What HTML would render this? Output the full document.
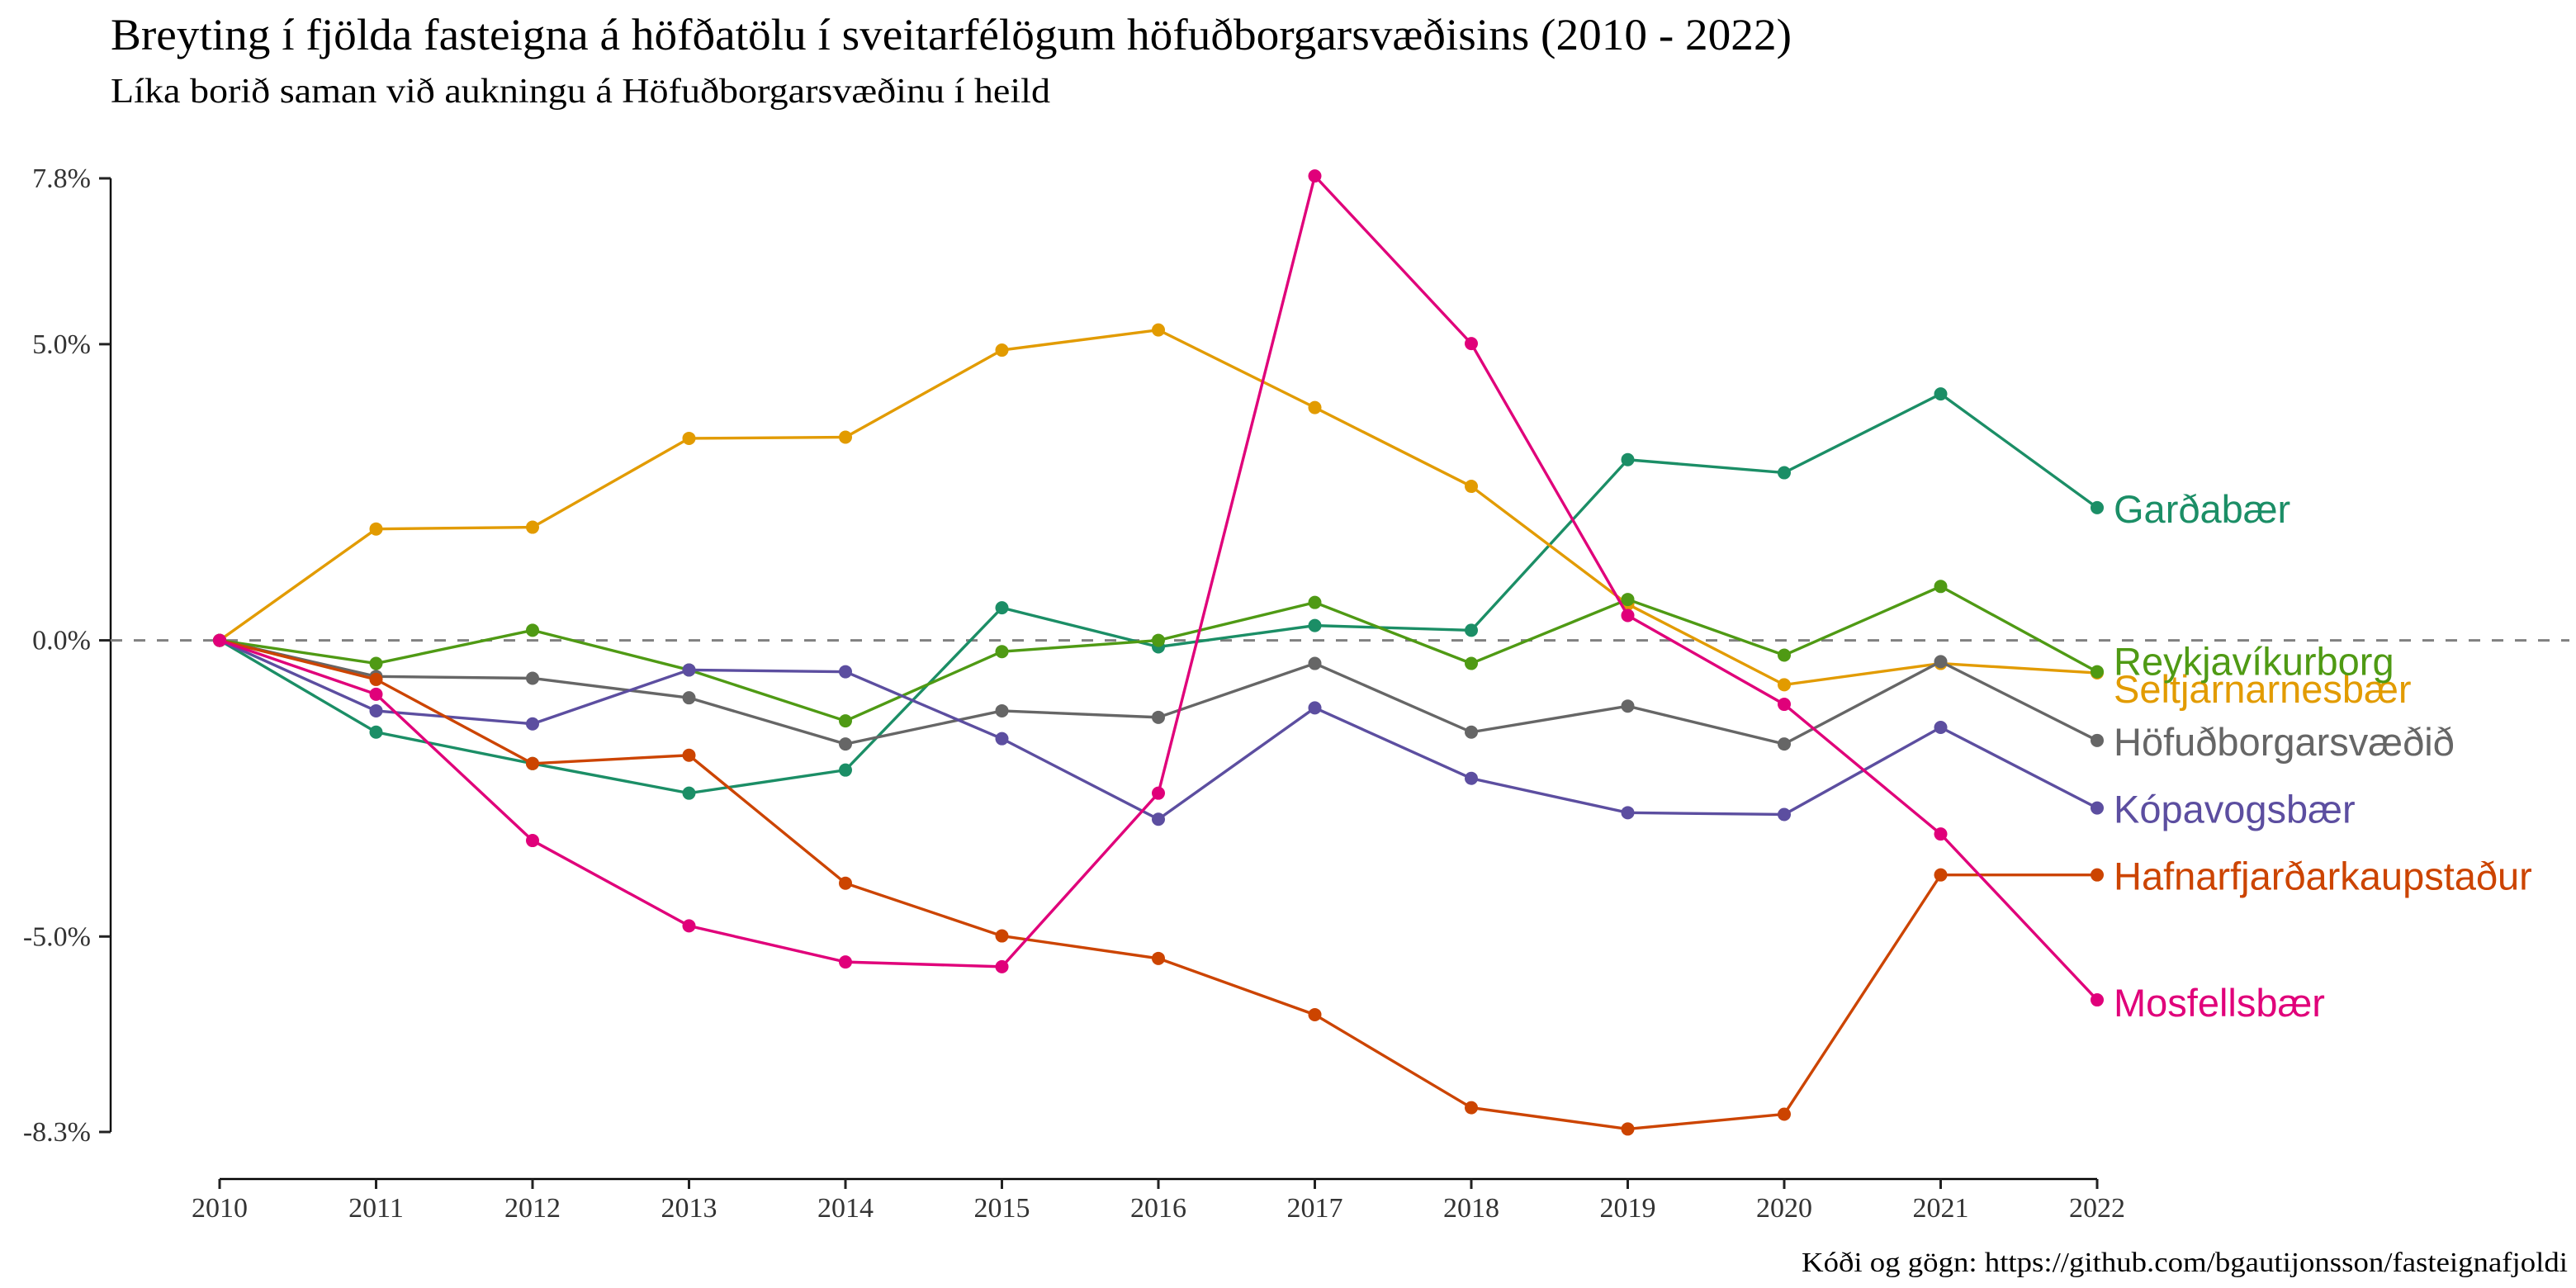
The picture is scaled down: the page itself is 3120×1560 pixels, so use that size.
<!DOCTYPE html>
<html><head><meta charset="utf-8"><style>
html,body{margin:0;padding:0;background:#fff;width:3120px;height:1560px;overflow:hidden}
svg{display:block}
.serif{font-family:"Liberation Serif",serif}
.sans{font-family:"Liberation Sans",sans-serif}
</style></head><body>
<svg id="chart" width="3120" height="1560" viewBox="0 0 1560 780" xmlns="http://www.w3.org/2000/svg">
<text class="serif" x="67" y="30" font-size="27" textLength="1018" lengthAdjust="spacingAndGlyphs" fill="#000">Breyting í fjölda fasteigna á höfðatölu í sveitarfélögum höfuðborgarsvæðisins (2010 - 2022)</text>
<text class="serif" x="67" y="62" font-size="21" textLength="569" lengthAdjust="spacingAndGlyphs" fill="#000">Líka borið saman við aukningu á Höfuðborgarsvæðinu í heild</text>
<text class="serif" x="1555" y="770" font-size="17" text-anchor="end" textLength="464" lengthAdjust="spacingAndGlyphs" fill="#000">Kóði og gögn: https://github.com/bgautijonsson/fasteignafjoldi</text>
<g id="axes"></g>
<g id="series"></g>
</svg>
<script>
const years=[2010,2011,2012,2013,2014,2015,2016,2017,2018,2019,2020,2021,2022];
const yTicks=[7.8,5.0,0.0,-5.0,-8.3];
const yTickLabels=["7.8%","5.0%","0.0%","-5.0%","-8.3%"];
const names=["Garðabær","Seltjarnarnesbær","Reykjavíkurborg","Höfuðborgarsvæðið","Kópavogsbær","Hafnarfjarðarkaupstaður","Mosfellsbær"];
const colors=["#1b8e66","#e29b00","#4f9a14","#666666","#5c4ea0","#cc4400","#e0007a"];
const gardabaer=[0,-1.55,-2.08,-2.58,-2.19,0.55,-0.11,0.25,0.17,3.05,2.83,4.16,2.24];
const seltjarnarnesbaer=[0,1.88,1.91,3.41,3.43,4.90,5.24,3.93,2.60,0.61,-0.75,-0.39,-0.55];
const reykjavik=[0,-0.39,0.17,-0.50,-1.36,-0.19,0,0.64,-0.39,0.69,-0.25,0.91,-0.53];
const hofudborgarsvaedid=[0,-0.61,-0.64,-0.97,-1.75,-1.19,-1.30,-0.39,-1.55,-1.11,-1.75,-0.36,-1.69];
const kopavogur=[0,-1.19,-1.41,-0.50,-0.53,-1.66,-3.02,-1.14,-2.33,-2.91,-2.94,-1.47,-2.83];
const hafnarfjordur=[0,-0.66,-2.08,-1.94,-4.10,-4.99,-5.37,-6.32,-7.89,-8.25,-8.00,-3.96,-3.96];
const mosfellsbaer=[0,-0.91,-3.38,-4.82,-5.43,-5.51,-2.58,7.84,5.01,0.42,-1.08,-3.27,-6.07];
const seriesData=[gardabaer,seltjarnarnesbaer,reykjavik,hofudborgarsvaedid,kopavogur,hafnarfjordur,mosfellsbaer];
const labelNudge=[1,10,-6,1,1,1,2];
const NS="http://www.w3.org/2000/svg";
const x=v=>133+(v-2010)*(1270-133)/12;
const y=v=>108+(7.8-v)*35.87;
function mk(tag,attrs,parent){const e=document.createElementNS(NS,tag);for(const k in attrs)e.setAttribute(k,attrs[k]);parent.appendChild(e);return e;}
const axes=document.getElementById('axes');
let a=mk('line',{x1:67,y1:y(7.8),x2:67,y2:y(-8.3),stroke:'#000','stroke-width':1.2},axes);


a=mk('line',{x1:x(2010),y1:714,x2:x(2022),y2:714,stroke:'#000','stroke-width':1.2},axes);


yTicks.forEach((t,i)=>{
  const l=mk('line',{x1:60,x2:67,y1:y(t),y2:y(t),stroke:'#222','stroke-width':1.5},axes);
  
  
  const tx=mk('text',{x:55,y:y(t)+5.5,'font-size':17,'text-anchor':'end',class:'serif',fill:'#333'},axes);
  tx.textContent=yTickLabels[i];
  
  
});
years.forEach(yr=>{
  const l=mk('line',{x1:x(yr),x2:x(yr),y1:714,y2:720,stroke:'#222','stroke-width':1.5},axes);
  
  
  const tx=mk('text',{x:x(yr),y:737,'font-size':17,'text-anchor':'middle',class:'serif',fill:'#333'},axes);
  tx.textContent=yr;
  
  
});
const zl=mk('line',{x1:67,x2:1556,y1:y(0),y2:y(0),stroke:'#808080','stroke-width':1.5,'stroke-dasharray':'7,7'},axes);


const sg=document.getElementById('series');
seriesData.forEach((vals,si)=>{
  const g=mk('g',{},sg);
  
  
  const p=mk('polyline',{points:vals.map((v,i)=>x(years[i])+','+y(v)).join(' '),fill:'none',stroke:colors[si],'stroke-width':1.7},g);
  
  
  vals.forEach((v,i)=>{
    const c=mk('circle',{cx:x(years[i]),cy:y(v),r:4,fill:colors[si]},g);
    
    
  });
  const last=vals[vals.length-1];
  const t=mk('text',{x:1280,y:y(last)+labelNudge[si]+8,'font-size':23.5,class:'sans',fill:colors[si]},g);
  t.textContent=names[si];
  
  
});
</script>
</body></html>
